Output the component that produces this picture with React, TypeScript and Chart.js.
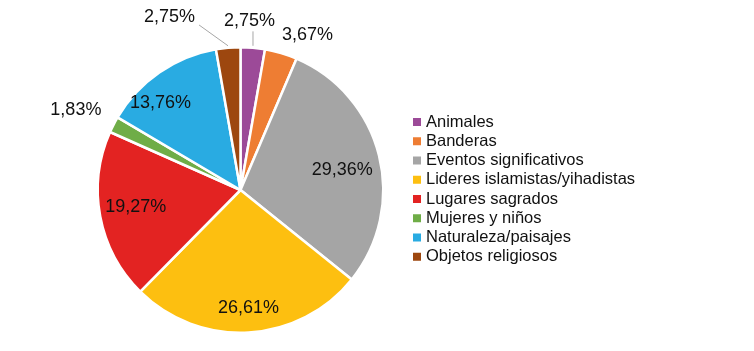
import React, { useEffect, useRef } from "react";
import { Chart, registerables } from "chart.js";

Chart.register(...registerables);

const categories = [
  "Animales",
  "Banderas",
  "Eventos significativos",
  "Lideres islamistas/yihadistas",
  "Lugares sagrados",
  "Mujeres y niños",
  "Naturaleza/paisajes",
  "Objetos religiosos",
];
const shares = [2.75, 3.67, 29.36, 26.61, 19.27, 1.83, 13.76, 2.75];
const sliceColors = [
  "#9C4A98",
  "#EE7D33",
  "#A5A5A5",
  "#FDBF10",
  "#E32322",
  "#6FAD47",
  "#29ABE2",
  "#9D470F",
];
const valueLabels = shares.map((v) => v.toFixed(2).replace(".", ",") + "%");

const FONT = '"Liberation Sans", Arial, sans-serif';

// polar label placement relative to pie (angle in degrees clockwise from top, radius factor)
const placement: { a: number; r: number; leader?: string }[] = [
  { a: 3.05, r: 1.183, leader: "vertical" },
  { a: 23.4, r: 1.181 },
  { a: 78.9, r: 0.727 },
  { a: 176.1, r: 0.827 },
  { a: 260.8, r: 0.744 },
  { a: 295.9, r: 1.282 },
  { a: 317.4, r: 0.827 },
  { a: 337.7, r: 1.31, leader: "diag" },
];

const labelsPlugin = {
  id: "sliceLabels",
  afterDatasetsDraw(chart: any) {
    const ctx = chart.ctx;
    const meta = chart.getDatasetMeta(0);
    const arcs = meta.data;
    if (!arcs.length) return;
    const cx = arcs[0].x;
    const cy = arcs[0].y;
    const R = arcs[0].outerRadius;
    ctx.save();
    ctx.font = `18px ${FONT}`;
    ctx.fillStyle = "#111";
    ctx.textAlign = "center";
    ctx.textBaseline = "middle";
    arcs.forEach((arc: any, i: number) => {
      const p = placement[i];
      const rad = (p.a * Math.PI) / 180;
      const tx = cx + R * p.r * Math.sin(rad);
      const ty = cy - R * p.r * Math.cos(rad);
      const text = valueLabels[i];
      ctx.fillText(text, tx, ty);
      if (p.leader) {
        const mid = (arc.startAngle + arc.endAngle) / 2;
        const sx = cx + (R + 2) * Math.cos(mid);
        const sy = cy + (R + 2) * Math.sin(mid);
        let ex = sx;
        let ey = ty + 10;
        if (p.leader === "diag") {
          const w = ctx.measureText(text).width;
          ex = tx + w / 2 + 4;
          ey = ty + 8;
        }
        ctx.save();
        ctx.strokeStyle = "#A6A6A6";
        ctx.lineWidth = 1;
        ctx.beginPath();
        ctx.moveTo(sx, sy);
        ctx.lineTo(ex, ey);
        ctx.stroke();
        ctx.restore();
      }
    });
    ctx.restore();
  },
};

const legendPlugin = {
  id: "sideLegend",
  afterDraw(chart: any) {
    const ctx = chart.ctx;
    const area = chart.chartArea;
    const x0 = area.right + 28;
    const y0 = area.top + 76;
    const step = 19.25;
    ctx.save();
    ctx.font = `16.5px ${FONT}`;
    ctx.textAlign = "left";
    ctx.textBaseline = "middle";
    categories.forEach((c, i) => {
      const y = y0 + i * step;
      ctx.fillStyle = sliceColors[i];
      ctx.fillRect(x0, y - 4, 8, 8);
      ctx.fillStyle = "#111";
      ctx.fillText(c, x0 + 13, y);
    });
    ctx.restore();
  },
};

export default function App() {
  const ref = useRef<HTMLCanvasElement>(null);
  useEffect(() => {
    document.body.style.margin = "0";
    const chart = new Chart(ref.current!, {
      type: "pie",
      data: {
        labels: categories,
        datasets: [
          {
            data: shares,
            backgroundColor: sliceColors,
            borderColor: "#ffffff",
            borderWidth: 2.5,
          },
        ],
      },
      options: {
        responsive: false,
        animation: false,
        devicePixelRatio: 1,
        layout: { padding: { left: 96, top: 46, right: 369, bottom: 17 } },
        plugins: {
          legend: { display: false },
          tooltip: { enabled: false },
        },
      },
      plugins: [labelsPlugin, legendPlugin],
    });
    return () => chart.destroy();
  }, []);
  return (
    <div style={{ width: 754, height: 351 }}>
      <canvas ref={ref} width={754} height={351} />
    </div>
  );
}
